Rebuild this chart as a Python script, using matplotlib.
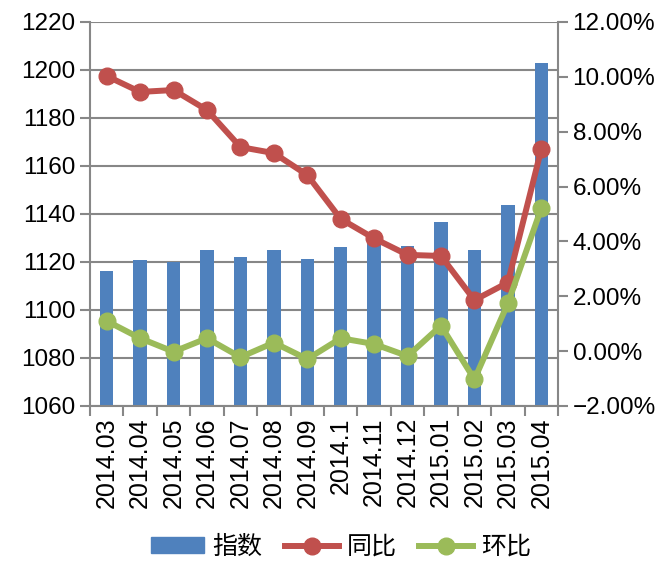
""" Index with YoY / MoM change, bar + twin line chart """

import matplotlib
matplotlib.use("Agg")
import matplotlib.pyplot as plt
from matplotlib.ticker import PercentFormatter, FixedLocator, NullFormatter
from matplotlib.patches import Patch
from matplotlib.lines import Line2D

plt.rcParams['font.family'] = ['Liberation Sans', 'Noto Sans CJK SC', 'DejaVu Sans']

# Data
months = ["2014.03", "2014.04", "2014.05", "2014.06", "2014.07", "2014.08", "2014.09",
          "2014.1", "2014.11", "2014.12", "2015.01", "2015.02", "2015.03", "2015.04"]
index_vals = [1116.2, 1120.8, 1120.1, 1125.0, 1122.1, 1125.1, 1121.3,
              1126.3, 1128.3, 1126.7, 1136.8, 1124.9, 1143.7, 1203.1]
yoy = [10.03, 9.45, 9.52, 8.79, 7.44, 7.22, 6.42, 4.82, 4.11, 3.51, 3.47, 1.86, 2.50, 7.36]
mom = [1.10, 0.47, -0.02, 0.47, -0.22, 0.31, -0.29, 0.47, 0.26, -0.18, 0.93, -1.03, 1.74, 5.21]

blue = "#4F81BD"
red = "#C0504D"
green = "#9BBB59"
grey = "#878787"
lw = 4.3
ms = 12

fig = plt.figure(figsize=(6.64, 5.63), dpi=100)
ax1 = fig.add_axes([90 / 664, 1 - 406 / 563, 468 / 664, 384 / 563])

x = list(range(len(months)))
ax1.bar(x, index_vals, width=0.4, color=blue, zorder=2)
ax1.set_ylim(1060, 1220)
ax1.set_yticks(range(1060, 1221, 20))
ax1.set_xlim(-0.5, len(months) - 0.5)
ax1.yaxis.grid(True, color=grey, linewidth=1.5, zorder=0)
ax1.set_axisbelow(True)

# category boundaries carry the ticks, labels sit at the centres
ax1.xaxis.set_major_locator(FixedLocator([i - 0.5 for i in range(len(months) + 1)]))
ax1.xaxis.set_major_formatter(NullFormatter())
ax1.xaxis.set_minor_locator(FixedLocator(x))
ax1.set_xticklabels(months, minor=True, rotation=90, fontsize=18)
ax1.tick_params(axis="x", which="minor", length=0, pad=8)
ax1.tick_params(axis="x", which="major", length=7, width=1.5, color=grey)
ax1.tick_params(axis="y", length=7, width=1.5, color=grey, labelsize=17.5)

for s in ["top", "right"]:
    ax1.spines[s].set_visible(False)
ax1.spines["left"].set_color(grey)
ax1.spines["bottom"].set_color(grey)
ax1.spines["left"].set_linewidth(1.5)
ax1.spines["bottom"].set_linewidth(1.5)

ax2 = ax1.twinx()
ax2.plot(x, [v / 100 for v in yoy], color=red, linewidth=lw, marker="o", markersize=ms)
ax2.plot(x, [v / 100 for v in mom], color=green, linewidth=lw, marker="o", markersize=ms)
ax2.set_ylim(-0.02, 0.12)
ax2.set_yticks([i / 100 for i in range(-2, 13, 2)])
ax2.yaxis.set_major_formatter(PercentFormatter(1.0, decimals=2))
ax2.tick_params(axis="y", length=7, width=1.5, color=grey, labelsize=17.5)
for s in ["top", "left", "bottom"]:
    ax2.spines[s].set_visible(False)
ax2.spines["right"].set_color(grey)
ax2.spines["right"].set_linewidth(1.5)

handles = [Patch(color=blue),
           Line2D([], [], color=red, linewidth=lw, marker="o", markersize=ms),
           Line2D([], [], color=green, linewidth=lw, marker="o", markersize=ms)]
fig.legend(handles, ["指数", "同比", "环比"], loc="center", ncol=3, frameon=False,
           bbox_to_anchor=(0.513, 16 / 563), prop={"family": "Noto Sans CJK SC", "size": 18},
           handlelength=2.15, handleheight=0.6, columnspacing=0.9, handletextpad=0.32,
           borderpad=0, borderaxespad=0)

fig.savefig("out.png", dpi=100)
